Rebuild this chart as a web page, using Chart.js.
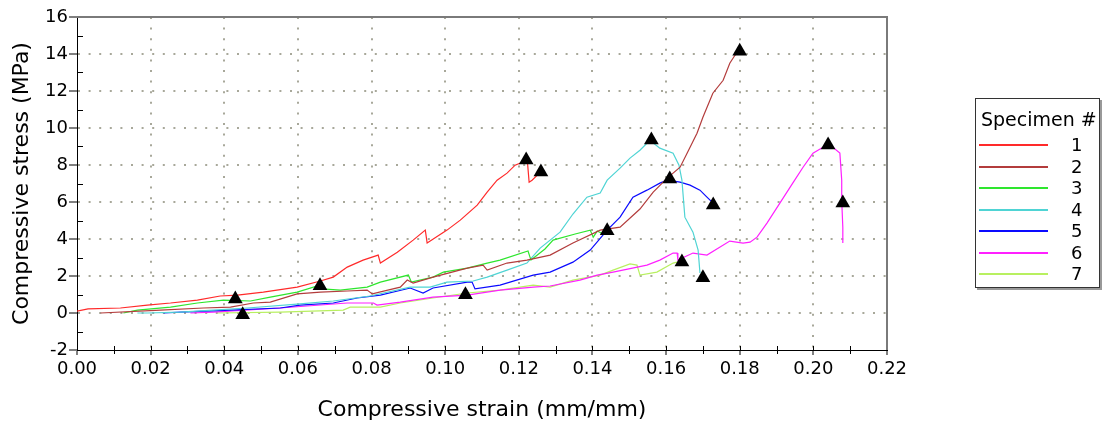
<!DOCTYPE html>
<html><head><meta charset="utf-8">
<script src="https://cdn.jsdelivr.net/npm/chart.js@4.4.0/dist/chart.umd.min.js"></script>
<style>
html,body{margin:0;padding:0;background:#fff;}
#wrap{position:relative;width:1108px;height:423px;overflow:hidden;}
#chart{position:absolute;left:0;top:0;}
#legend{position:absolute;left:975px;top:98px;width:123px;height:188px;border:1px solid #333;box-shadow:2px 2px 0 #999;background:#fff;font-family:"DejaVu Sans",sans-serif;color:#000;}
#legend .ttl{position:absolute;left:5px;top:9px;font-size:19px;white-space:nowrap;}
#legend .row{position:absolute;left:0;width:123px;height:20px;}
#legend .ln{position:absolute;left:3px;width:69px;height:2px;top:9px;}
#legend .num{position:absolute;left:95px;top:0;font-size:18px;line-height:20px;}
</style>
</head><body>
<div id="wrap">
<canvas id="chart" width="1108" height="423"></canvas>
<div id="legend"></div>
</div>
<script>
const legendTitle = "Specimen #";
const specimenNames = ["1","2","3","4","5","6","7"];
const specimenColors = ["#ff2a2a","#b33c3c","#2ee62e","#4fd4d4","#0a0aff","#ff20ff","#b8f060"];
const xTitle = "Compressive strain (mm/mm)";
const yTitle = "Compressive stress (MPa)";

const spec1Strain = [0,0.003,0.0118,0.0191,0.0254,0.0327,0.0389,0.0436,0.0506,0.0598,0.0661,0.0696,0.0734,0.0777,0.0818,0.0824,0.087,0.0913,0.0946,0.0951,0.1005,0.1041,0.1087,0.1114,0.1141,0.1168,0.119,0.1209,0.1223,0.1228,0.1236,0.1255];
const spec1Stress = [0.1,0.22,0.27,0.43,0.54,0.70,0.92,0.97,1.13,1.40,1.73,1.94,2.48,2.86,3.13,2.70,3.29,3.94,4.48,3.78,4.48,5.02,5.83,6.53,7.18,7.56,7.99,8.15,8.26,7.07,7.18,7.55];

const spec2Strain = [0.0064,0.0227,0.0343,0.0417,0.0479,0.0525,0.0598,0.0661,0.0734,0.0788,0.0802,0.0878,0.0897,0.0913,0.0967,0.106,0.1103,0.1114,0.1168,0.1222,0.1285,0.1347,0.1421,0.1475,0.1529,0.1565,0.1603,0.1638,0.1657,0.1684,0.17,0.1727,0.1755,0.1773,0.1787,0.18];
const spec2Stress = [0,0.16,0.27,0.32,0.54,0.59,1.03,1.13,1.19,1.24,1.03,1.40,1.78,1.62,1.94,2.43,2.59,2.32,2.70,2.86,3.13,3.78,4.48,4.64,5.62,6.53,7.29,7.88,8.64,9.72,10.58,11.88,12.58,13.50,13.93,14.20];

const spec3Strain = [0.0126,0.0164,0.0254,0.0327,0.0398,0.0471,0.0525,0.0598,0.0653,0.0666,0.0715,0.0788,0.0824,0.09,0.0908,0.0967,0.0995,0.106,0.1114,0.1149,0.1225,0.1233,0.1271,0.1293,0.1353,0.1394,0.1402,0.1413,0.1429,0.144];
const spec3Stress = [0,0.16,0.32,0.54,0.70,0.65,0.86,1.13,1.46,1.30,1.24,1.40,1.67,2.05,1.67,1.94,2.21,2.43,2.70,2.86,3.35,2.86,3.46,3.94,4.27,4.48,4.10,4.43,4.27,4.43];

const spec4Strain = [0.0164,0.0191,0.0281,0.037,0.0463,0.0606,0.0696,0.0796,0.0905,0.0959,0.1005,0.1076,0.1114,0.1168,0.1222,0.1258,0.1312,0.1347,0.1385,0.1421,0.144,0.1475,0.1502,0.1529,0.1556,0.1583,0.1619,0.1635,0.1643,0.1651,0.1673,0.1687,0.1692];
const spec4Stress = [0,0,0.05,0.16,0.27,0.49,0.65,0.92,1.40,1.40,1.67,1.73,1.94,2.32,2.70,3.51,4.37,5.35,6.26,6.48,7.18,7.83,8.37,8.80,9.34,8.91,8.64,7.99,7.18,5.18,4.37,3.40,2.16];

const spec5Strain = [0.0235,0.0281,0.0417,0.0552,0.0606,0.0696,0.0761,0.0824,0.0905,0.094,0.0967,0.106,0.1073,0.1081,0.1149,0.1239,0.1285,0.1347,0.1394,0.144,0.1475,0.151,0.1548,0.1583,0.1603,0.1638,0.1665,0.1692,0.1711,0.1725];
const spec5Stress = [0,0.05,0.16,0.27,0.43,0.54,0.81,0.97,1.35,1.08,1.35,1.67,1.67,1.30,1.51,2.05,2.21,2.75,3.40,4.48,5.18,6.26,6.64,7.02,7.18,7.07,6.91,6.64,6.26,5.99];

const spec6Strain = [0.0308,0.037,0.0552,0.0734,0.0805,0.0815,0.0878,0.0967,0.106,0.1149,0.1239,0.1285,0.1366,0.1413,0.1456,0.1548,0.1583,0.1619,0.163,0.1632,0.1673,0.1711,0.1773,0.1809,0.1828,0.1847,0.1874,0.1909,0.1944,0.1972,0.1999,0.2026,0.2053,0.2072,0.2077,0.2077,0.208,0.208];
const spec6Stress = [0,0.05,0.27,0.54,0.54,0.43,0.59,0.86,0.97,1.24,1.40,1.46,1.78,2.05,2.21,2.59,2.86,3.24,3.24,2.86,3.24,3.13,3.89,3.78,3.83,4.10,4.86,5.94,7.02,7.88,8.64,8.96,8.96,8.64,7.18,6.10,4.64,3.78];

const spec7Strain = [0.0381,0.0552,0.0723,0.0742,0.0824,0.0878,0.0967,0.106,0.1149,0.1239,0.1285,0.1347,0.1421,0.1456,0.1502,0.1521,0.1529,0.1575,0.1619,0.163];
const spec7Stress = [0,0.05,0.16,0.32,0.32,0.54,0.81,1.08,1.24,1.51,1.40,1.78,2.05,2.32,2.65,2.59,2.05,2.21,2.70,2.75];

const markerStrain = [0.043,0.045,0.066,0.1055,0.122,0.126,0.144,0.156,0.161,0.1643,0.170,0.1728,0.180,0.204,0.208];
const markerStress = [0.76,-0.1,1.47,0.98,8.27,7.62,4.44,9.35,7.24,2.76,1.9,5.84,14.15,9.08,5.95];

const xTickStep = 0.02, xMin = 0, xMax = 0.22;
const yTickStep = 2, yMin = -2, yMax = 16;

const seriesStrain = [spec1Strain,spec2Strain,spec3Strain,spec4Strain,spec5Strain,spec6Strain,spec7Strain];
const seriesStress = [spec1Stress,spec2Stress,spec3Stress,spec4Stress,spec5Stress,spec6Stress,spec7Stress];

const FONT = "DejaVu Sans";
const datasets = seriesStrain.map((xs, i) => ({
  label: specimenNames[i],
  data: xs.map((x, j) => ({x: x, y: seriesStress[i][j]})),
  borderColor: specimenColors[i],
  backgroundColor: specimenColors[i],
  borderWidth: 1.2,
  pointRadius: 0,
  tension: 0,
  fill: false,
  order: 2
}));
datasets.push({
  type: 'scatter',
  label: 'markers',
  data: markerStrain.map((x, j) => ({x: x, y: markerStress[j]})),
  pointStyle: 'triangle',
  pointRadius: 8.5,
  backgroundColor: '#000',
  borderColor: '#000',
  borderWidth: 0,
  showLine: false,
  order: 0
});

const frameAndMinor = {
  id: 'frameAndMinor',
  afterDraw(chart) {
    const ctx = chart.ctx, a = chart.chartArea;
    const xs = chart.scales.x, ys = chart.scales.y;
    ctx.save();
    ctx.strokeStyle = '#000';
    ctx.lineWidth = 1;
    ctx.beginPath();
    for (let v = yMin + 1; v < yMax; v += 2) {
      const p = Math.round(ys.getPixelForValue(v)) + 0.5;
      ctx.moveTo(a.left, p); ctx.lineTo(a.left + 6, p);
    }
    for (let k = 1; k < 22; k++) {
      const p = Math.round(xs.getPixelForValue(k * 0.01)) + 0.5;
      ctx.moveTo(p, a.bottom - 4); ctx.lineTo(p, a.bottom + (k % 2 ? 4 : 0));
    }
    ctx.stroke();
    ctx.strokeStyle = '#7a7a7a';
    ctx.lineWidth = 2;
    ctx.beginPath();
    ctx.moveTo(a.left, a.top); ctx.lineTo(a.right, a.top); ctx.lineTo(a.right, a.bottom);
    ctx.stroke();
    ctx.restore();
  }
};

const GRID = '#a8a89a';
const DOTS = [2, 8.6];
new Chart(document.getElementById('chart'), {
  type: 'line',
  data: { datasets },
  options: {
    responsive: false,
    animation: false,
    layout: { padding: { left: 0, top: 17, right: 221, bottom: 0 } },
    plugins: { legend: { display: false }, tooltip: { enabled: false } },
    scales: {
      x: {
        type: 'linear', min: xMin, max: xMax,
        ticks: { stepSize: xTickStep, autoSkip: false, maxRotation: 0, padding: 4,
          color: '#000', font: { family: FONT, size: 18 },
          callback: (v) => Number(v).toFixed(2) },
        grid: { drawOnChartArea: true, tickLength: 5, lineWidth: 2,
          color: (c) => (c.index > 0 && c.index < 11) ? GRID : 'rgba(0,0,0,0)',
          tickColor: '#000', tickWidth: 1, tickBorderDash: [] },
        border: { display: true, color: '#000', width: 1, dash: DOTS },
        title: { display: true, text: xTitle, color: '#000', font: { family: FONT, size: 22 }, padding: { top: 6, bottom: 0 } },
        afterFit: (s) => { s.height = 73; }
      },
      y: {
        type: 'linear', min: yMin, max: yMax,
        ticks: { stepSize: yTickStep, autoSkip: false, padding: 1,
          color: '#000', font: { family: FONT, size: 18 } },
        grid: { tickLength: 8, lineWidth: 2,
          color: (c) => (c.index > 0 && c.index < 9) ? GRID : 'rgba(0,0,0,0)',
          tickColor: '#000', tickWidth: 1, tickBorderDash: [] },
        border: { display: true, color: '#000', width: 1, dash: DOTS },
        title: { display: true, text: yTitle, color: '#000', font: { family: FONT, size: 22 }, padding: { top: 9, bottom: 0 } },
        afterFit: (s) => { s.width = 77; }
      }
    }
  },
  plugins: [frameAndMinor]
});

// legend
const lg = document.getElementById('legend');
const t = document.createElement('div');
t.className = 'ttl'; t.textContent = legendTitle; lg.appendChild(t);
specimenNames.forEach((n, i) => {
  const r = document.createElement('div');
  r.className = 'row';
  r.style.top = (36 + i * 21.5) + 'px';
  const l = document.createElement('div');
  l.className = 'ln'; l.style.background = specimenColors[i];
  const s = document.createElement('div');
  s.className = 'num'; s.textContent = n;
  r.appendChild(l); r.appendChild(s); lg.appendChild(r);
});
</script>
</body></html>
